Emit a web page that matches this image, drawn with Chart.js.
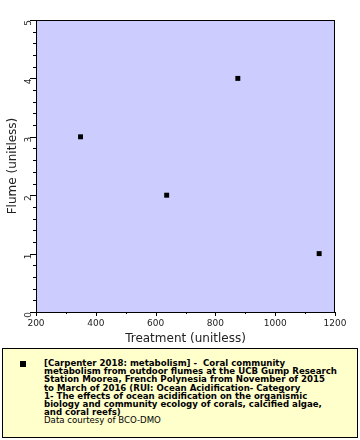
<!DOCTYPE html>
<html>
<head>
<meta charset="utf-8">
<script src="https://cdn.jsdelivr.net/npm/chart.js@4/dist/chart.umd.min.js"></script>
<style>
  body { margin: 0; background: #fff; font-family: "DejaVu Sans", sans-serif; }
  #wrap { position: relative; width: 360px; height: 440px; }
  #chartBox { position: absolute; left: 0; top: 0; width: 360px; height: 346px; }
  #legend {
    position: absolute; left: 2px; top: 348px; width: 354px; height: 88px;
    background: #ffffcc; border: 1px solid #000;
  }
  #legend .mark { position: absolute; left: 17px; top: 12px; width: 6px; height: 6px; background: #000; }
  #legend .txt {
    position: absolute; left: 41px; top: 10px; width: 312px; white-space: nowrap;
    font-size: 8.6px; line-height: 8.2px; color: #000;
  }
  #legend b { font-weight: bold; }
</style>
</head>
<body>
<div id="wrap">
  <div id="chartBox"><canvas id="myChart"></canvas></div>
  <div id="legend">
    <div class="mark"></div>
    <div class="txt"><b>[Carpenter 2018: metabolism] - &nbsp;Coral community<br>metabolism from outdoor flumes at the UCB Gump Research<br>Station Moorea, French Polynesia from November of 2015<br>to March of 2016 (RUI: Ocean Acidification- Category<br>1- The effects of ocean acidification on the organismic<br>biology and community ecology of corals, calcified algae,<br>and coral reefs)</b><br>Data courtesy of BCO-DMO</div>
  </div>
</div>
<script>
// valeurs
const treatment = [349, 637, 875, 1147];
const flume = [3, 2, 4, 1];
const xTicks = [200, 400, 600, 800, 1000, 1200];
const yTicks = [0, 1, 2, 3, 4, 5];

const points = treatment.map((t, i) => ({ x: t, y: flume[i] }));

// fond bleu, cadre et petites graduations
const plotDeco = {
  id: 'plotDeco',
  beforeDraw(chart) {
    const { ctx, chartArea: a } = chart;
    ctx.save();
    ctx.fillStyle = '#ccccff';
    ctx.fillRect(a.left, a.top, a.right - a.left, a.bottom - a.top);
    ctx.restore();
  },
  afterDraw(chart) {
    const { ctx, chartArea: a } = chart;
    const xs = chart.scales.x, ys = chart.scales.y;
    ctx.save();
    ctx.strokeStyle = '#000';
    ctx.lineWidth = 1;
    ctx.strokeRect(a.left + 0.5, a.top + 0.5, a.right - a.left - 1, a.bottom - a.top);
    ctx.beginPath();
    for (let v = 200; v <= 1200; v += 100) {
      const px = Math.round(xs.getPixelForValue(v)) + 0.5;
      const len = (v % 200 === 0) ? 4 : 2;
      ctx.moveTo(px, a.bottom);
      ctx.lineTo(px, a.bottom + len);
    }
    for (let i = 0; i <= 25; i++) {
      const v = i / 5;
      const py = Math.round(ys.getPixelForValue(v)) + 0.5;
      const len = (i % 5 === 0) ? 6 : 3;
      ctx.moveTo(a.left, py);
      ctx.lineTo(a.left - len, py);
    }
    ctx.stroke();
    ctx.restore();
  }
};

const config = {
  type: 'scatter',
  data: {
    datasets: [{
      label: 'Carpenter 2018: metabolism',
      data: points,
      pointStyle: 'rect',
      radius: 3.5,
      backgroundColor: '#000',
      borderColor: '#000',
      borderWidth: 0
    }]
  },
  options: {
    responsive: true,
    maintainAspectRatio: false,
    animation: false,
    layout: { padding: { top: 20, right: 25, left: 0, bottom: 0 } },
    plugins: {
      legend: { display: false },
      tooltip: { enabled: false }
    },
    scales: {
      x: {
        type: 'linear',
        min: 200, max: 1200,
        afterBuildTicks: s => { s.ticks = xTicks.map(v => ({ value: v })); },
        afterFit: s => { s.height = 34; },
        grid: { display: false, drawTicks: false },
        border: { display: false },
        ticks: {
          padding: 6,
          color: '#222',
          font: { family: 'DejaVu Sans', size: 9 },
          maxRotation: 0,
          callback: v => String(v)
        },
        title: {
          display: true,
          text: 'Treatment (unitless)',
          color: '#222',
          font: { family: 'DejaVu Sans', size: 12 },
          padding: { top: 0, bottom: 0 }
        }
      },
      y: {
        type: 'linear',
        min: 0, max: 5,
        afterBuildTicks: s => { s.ticks = yTicks.map(v => ({ value: v })); },
        afterFit: s => { s.width = 36; },
        grid: { display: false, drawTicks: false },
        border: { display: false },
        ticks: {
          padding: 7,
          color: '#222',
          minRotation: 90,
          maxRotation: 90,
          font: { family: 'DejaVu Sans', size: 9 },
          callback: v => String(v)
        },
        title: {
          display: true,
          text: 'Flume (unitless)',
          color: '#222',
          font: { family: 'DejaVu Sans', size: 12 },
          padding: { top: 6, bottom: 0 }
        }
      }
    }
  },
  plugins: [plotDeco]
};

const ctx = document.getElementById('myChart').getContext('2d');
const myChart = new Chart(ctx, config);
</script>
</body>
</html>
